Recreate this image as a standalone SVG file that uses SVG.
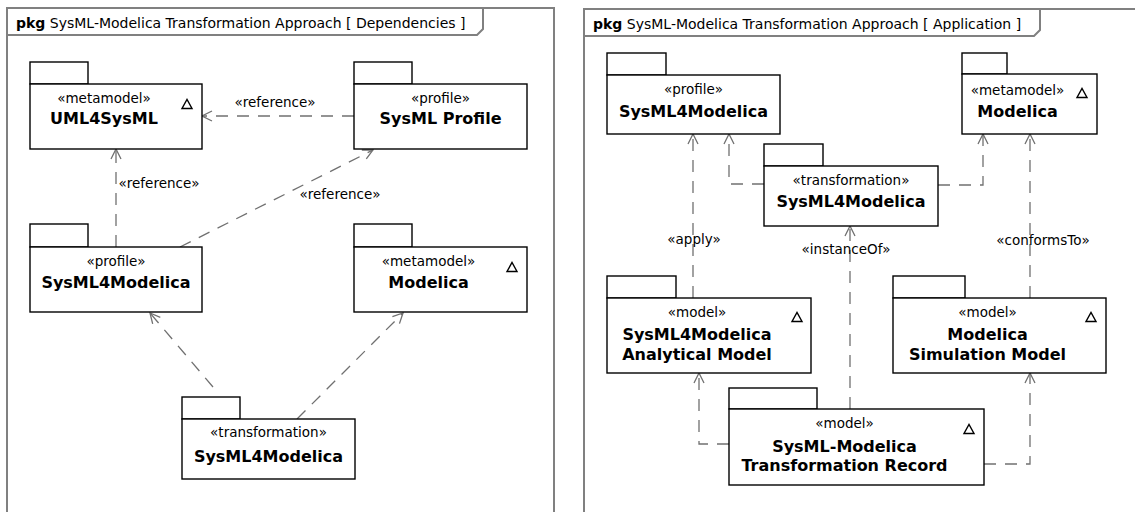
<svg xmlns="http://www.w3.org/2000/svg" width="1135" height="512" viewBox="0 0 1135 512">
<style>
.frame{fill:none;stroke:#808080;stroke-width:2}
.pk{fill:#fff;stroke:#000;stroke-width:1.4}
.tri{fill:none;stroke:#000;stroke-width:1.4}
.st{font-family:"DejaVu Sans",sans-serif;font-size:13.5px;fill:#000;text-anchor:middle}
.nm{font-family:"DejaVu Sans",sans-serif;font-size:16px;font-weight:bold;fill:#000;text-anchor:middle}
.lb{font-family:"DejaVu Sans",sans-serif;font-size:13.5px;fill:#000;text-anchor:middle}
.tt{font-family:"DejaVu Sans",sans-serif;font-size:14px;fill:#000}
.tb{font-weight:bold}
.dep{fill:none;stroke:#707070;stroke-width:1.3;stroke-dasharray:12 9;marker-end:url(#arr)}
</style>
<defs>
<marker id="arr" viewBox="0 0 12 12" refX="11" refY="6" markerWidth="12" markerHeight="12" markerUnits="userSpaceOnUse" orient="auto">
<path d="M1,1 L11,6 L1,11" fill="none" stroke="#707070" stroke-width="1.3" stroke-dasharray="none"/>
</marker>
</defs>

<g id="frame-dependencies">
<rect class="frame" x="7" y="8" width="547" height="520"/>
<path class="frame" d="M7,35 H477 L483,29 V8"/>
<text class="tt" x="16" y="28"><tspan class="tb">pkg</tspan> SysML-Modelica Transformation Approach [ Dependencies ]</text>
</g>

<g id="frame-application">
<rect class="frame" x="584" y="9" width="560" height="520"/>
<path class="frame" d="M584,36 H1034 L1040,30 V9"/>
<text class="tt" x="593" y="29"><tspan class="tb">pkg</tspan> SysML-Modelica Transformation Approach [ Application ]</text>
</g>

<g id="connectors">
<path class="dep" d="M354,116 H202"/>
<path class="dep" d="M116,247 V149"/>
<path class="dep" d="M180,247 L373,150"/>
<path class="dep" d="M213,387 L150,313"/>
<path class="dep" d="M297,419 L403,313"/>
<path class="dep" d="M693,298 V134"/>
<path class="dep" d="M764,184 H729 V134"/>
<path class="dep" d="M938,185 H983 V134"/>
<path class="dep" d="M1030,298 V134"/>
<path class="dep" d="M850,409 V226"/>
<path class="dep" d="M729,444 H699 V373"/>
<path class="dep" d="M984,464 H1030 V373"/>
<text class="lb" x="275" y="107">«reference»</text>
<text class="lb" x="159" y="188">«reference»</text>
<text class="lb" x="340" y="199">«reference»</text>
<text class="lb" x="694" y="244">«apply»</text>
<text class="lb" x="846" y="254">«instanceOf»</text>
<text class="lb" x="1043" y="245">«conformsTo»</text>
</g>

<g id="uml4sysml">
<rect class="pk" x="30" y="62" width="58" height="22"/>
<rect class="pk" x="30" y="84" width="172" height="65"/>
<path class="tri" d="M182,108.5 H192 L187,99.5 Z"/>
<text class="st" x="104" y="103">«metamodel»</text>
<text class="nm" x="104" y="124">UML4SysML</text>
</g>

<g id="sysml-profile">
<rect class="pk" x="354" y="62" width="58" height="22"/>
<rect class="pk" x="354" y="84" width="173" height="65"/>
<text class="st" x="440.5" y="103">«profile»</text>
<text class="nm" x="440.5" y="124">SysML Profile</text>
</g>

<g id="sysml4modelica-profile-left">
<rect class="pk" x="30" y="224" width="58" height="23"/>
<rect class="pk" x="30" y="247" width="172" height="65"/>
<text class="st" x="116" y="266">«profile»</text>
<text class="nm" x="116" y="288">SysML4Modelica</text>
</g>

<g id="modelica-metamodel-left">
<rect class="pk" x="354" y="224" width="58" height="23"/>
<rect class="pk" x="354" y="247" width="173" height="65"/>
<path class="tri" d="M507,271.5 H517 L512,262.5 Z"/>
<text class="st" x="428.5" y="266">«metamodel»</text>
<text class="nm" x="428.5" y="288">Modelica</text>
</g>

<g id="transformation-left">
<rect class="pk" x="182" y="397" width="58" height="22"/>
<rect class="pk" x="182" y="419" width="173" height="60"/>
<text class="st" x="268.5" y="437">«transformation»</text>
<text class="nm" x="268.5" y="462">SysML4Modelica</text>
</g>

<g id="sysml4modelica-profile-right">
<rect class="pk" x="607" y="53" width="59" height="22"/>
<rect class="pk" x="607" y="75" width="173" height="59"/>
<text class="st" x="693.5" y="94">«profile»</text>
<text class="nm" x="693.5" y="117">SysML4Modelica</text>
</g>

<g id="modelica-metamodel-right">
<rect class="pk" x="962" y="53" width="45" height="21"/>
<rect class="pk" x="962" y="74" width="135" height="60"/>
<path class="tri" d="M1077,97.5 H1087 L1082,88.5 Z"/>
<text class="st" x="1017.5" y="95">«metamodel»</text>
<text class="nm" x="1017.5" y="117">Modelica</text>
</g>

<g id="transformation-right">
<rect class="pk" x="764" y="144" width="59" height="22"/>
<rect class="pk" x="764" y="166" width="174" height="60"/>
<text class="st" x="851" y="185">«transformation»</text>
<text class="nm" x="851" y="207">SysML4Modelica</text>
</g>

<g id="analytical-model">
<rect class="pk" x="607" y="276" width="69" height="22"/>
<rect class="pk" x="607" y="298" width="204" height="75"/>
<path class="tri" d="M792,321.5 H802 L797,312.5 Z"/>
<text class="st" x="697" y="317">«model»</text>
<text class="nm" x="697" y="340">SysML4Modelica</text>
<text class="nm" x="697" y="360">Analytical Model</text>
</g>

<g id="simulation-model">
<rect class="pk" x="893" y="276" width="72" height="22"/>
<rect class="pk" x="893" y="298" width="213" height="75"/>
<path class="tri" d="M1086,321.5 H1096 L1091,312.5 Z"/>
<text class="st" x="987.5" y="317">«model»</text>
<text class="nm" x="987.5" y="340">Modelica</text>
<text class="nm" x="987.5" y="360">Simulation Model</text>
</g>

<g id="transformation-record">
<rect class="pk" x="729" y="388" width="88" height="21"/>
<rect class="pk" x="729" y="409" width="255" height="76"/>
<path class="tri" d="M964,433.5 H974 L969,424.5 Z"/>
<text class="st" x="844.5" y="428">«model»</text>
<text class="nm" x="844.5" y="452">SysML-Modelica</text>
<text class="nm" x="844.5" y="471">Transformation Record</text>
</g>
</svg>
